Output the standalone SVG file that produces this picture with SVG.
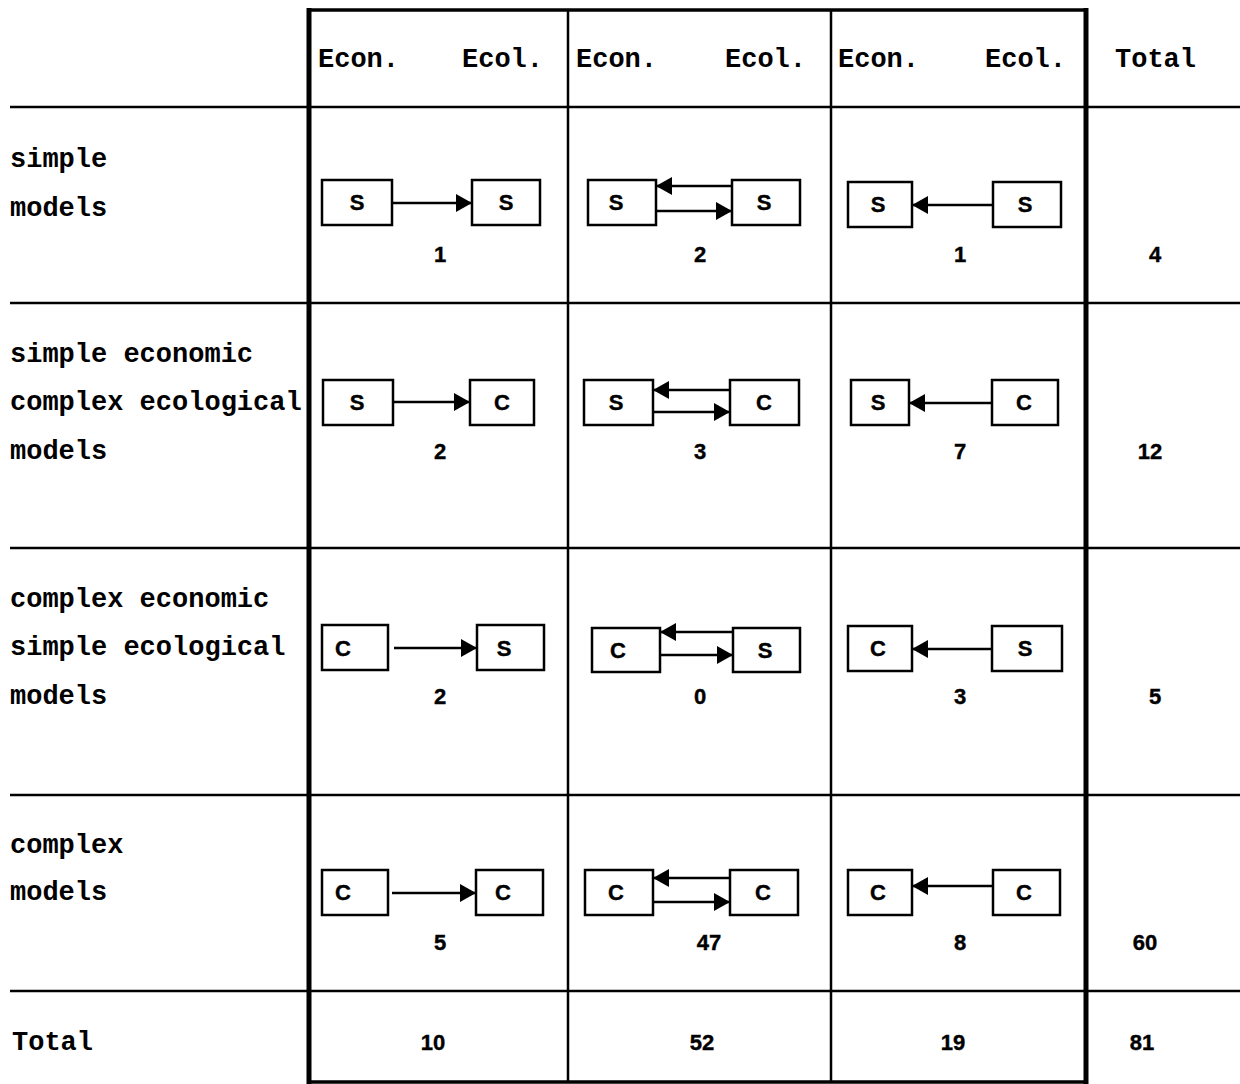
<svg xmlns="http://www.w3.org/2000/svg" width="1240" height="1084" viewBox="0 0 1240 1084">
<style>
.lbl{font-family:"Liberation Mono","Courier New",monospace;font-weight:bold;font-size:27px;fill:#000}
.num{font-family:"Liberation Sans",Arial,sans-serif;font-weight:bold;font-size:22px;fill:#000;text-anchor:middle;stroke:#000;stroke-width:0.4}
.box rect{fill:#fff;stroke:#000;stroke-width:2.5}
.grid line{stroke:#000;stroke-width:2.5}
.conn line{stroke:#000;stroke-width:2.5;marker-end:url(#ah)}
</style>
<defs>
<marker id="ah" viewBox="0 0 16 18" refX="16" refY="9" markerUnits="userSpaceOnUse" markerWidth="16" markerHeight="18" orient="auto">
<path d="M0,0 L16,9 L0,18 z" fill="#000"/>
</marker>
</defs>
<rect width="1240" height="1084" fill="#fff"/>
<g id="grid" class="grid">
<line x1="10" y1="107" x2="1240" y2="107"/>
<line x1="10" y1="303" x2="1240" y2="303"/>
<line x1="10" y1="548" x2="1240" y2="548"/>
<line x1="10" y1="795" x2="1240" y2="795"/>
<line x1="10" y1="991" x2="1240" y2="991"/>
<line x1="568" y1="10" x2="568" y2="1082"/>
<line x1="831" y1="10" x2="831" y2="1082"/>
<line x1="308" y1="10" x2="1086" y2="10" style="stroke-width:3.5"/>
<line x1="308" y1="1082" x2="1086" y2="1082" style="stroke-width:3.5"/>
<line x1="309" y1="8" x2="309" y2="1084" style="stroke-width:5"/>
<line x1="1086" y1="8" x2="1086" y2="1084" style="stroke-width:5"/>
</g>
<g id="header">
<text class="lbl" x="318" y="67">Econ.</text><text class="lbl" x="462" y="67">Ecol.</text>
<text class="lbl" x="576" y="67">Econ.</text><text class="lbl" x="725" y="67">Ecol.</text>
<text class="lbl" x="838" y="67">Econ.</text><text class="lbl" x="985" y="67">Ecol.</text>
<text class="lbl" x="1115" y="67">Total</text>
</g>
<g id="row-labels">
<text class="lbl" x="10" y="167">simple</text>
<text class="lbl" x="10" y="216">models</text>
<text class="lbl" x="10" y="362">simple economic</text>
<text class="lbl" x="10" y="410">complex ecological</text>
<text class="lbl" x="10" y="459">models</text>
<text class="lbl" x="10" y="607">complex economic</text>
<text class="lbl" x="10" y="655">simple ecological</text>
<text class="lbl" x="10" y="704">models</text>
<text class="lbl" x="10" y="853">complex</text>
<text class="lbl" x="10" y="900">models</text>
<text class="lbl" x="12" y="1050">Total</text>
</g>
<!-- Row 1 -->
<g id="r1c1a" class="box"><rect x="322" y="180" width="70" height="45"/><text class="num" x="357" y="210">S</text></g>
<g id="r1c1b" class="box"><rect x="472" y="180" width="68" height="45"/><text class="num" x="506" y="210">S</text></g>
<g id="r1c2a" class="box"><rect x="588" y="180" width="68" height="45"/><text class="num" x="616" y="210">S</text></g>
<g id="r1c2b" class="box"><rect x="732" y="180" width="68" height="45"/><text class="num" x="764" y="210">S</text></g>
<g id="r1c3a" class="box"><rect x="848" y="182" width="64" height="45"/><text class="num" x="878" y="212">S</text></g>
<g id="r1c3b" class="box"><rect x="993" y="182" width="68" height="45"/><text class="num" x="1025" y="212">S</text></g>
<!-- Row 2 -->
<g id="r2c1a" class="box"><rect x="323" y="380" width="70" height="45"/><text class="num" x="357" y="410">S</text></g>
<g id="r2c1b" class="box"><rect x="470" y="380" width="64" height="45"/><text class="num" x="502" y="410">C</text></g>
<g id="r2c2a" class="box"><rect x="584" y="380" width="69" height="45"/><text class="num" x="616" y="410">S</text></g>
<g id="r2c2b" class="box"><rect x="730" y="380" width="69" height="45"/><text class="num" x="764" y="410">C</text></g>
<g id="r2c3a" class="box"><rect x="851" y="380" width="58" height="45"/><text class="num" x="878" y="410">S</text></g>
<g id="r2c3b" class="box"><rect x="992" y="380" width="66" height="45"/><text class="num" x="1024" y="410">C</text></g>
<!-- Row 3 -->
<g id="r3c1a" class="box"><rect x="322" y="625" width="66" height="45"/><text class="num" x="343" y="656">C</text></g>
<g id="r3c1b" class="box"><rect x="477" y="625" width="67" height="45"/><text class="num" x="504" y="656">S</text></g>
<g id="r3c2a" class="box"><rect x="592" y="628" width="68" height="44"/><text class="num" x="618" y="658">C</text></g>
<g id="r3c2b" class="box"><rect x="733" y="628" width="67" height="44"/><text class="num" x="765" y="658">S</text></g>
<g id="r3c3a" class="box"><rect x="848" y="626" width="64" height="45"/><text class="num" x="878" y="656">C</text></g>
<g id="r3c3b" class="box"><rect x="992" y="626" width="70" height="45"/><text class="num" x="1025" y="656">S</text></g>
<!-- Row 4 -->
<g id="r4c1a" class="box"><rect x="322" y="870" width="66" height="45"/><text class="num" x="343" y="900">C</text></g>
<g id="r4c1b" class="box"><rect x="476" y="870" width="67" height="45"/><text class="num" x="503" y="900">C</text></g>
<g id="r4c2a" class="box"><rect x="585" y="870" width="68" height="45"/><text class="num" x="616" y="900">C</text></g>
<g id="r4c2b" class="box"><rect x="730" y="870" width="68" height="45"/><text class="num" x="763" y="900">C</text></g>
<g id="r4c3a" class="box"><rect x="848" y="870" width="64" height="45"/><text class="num" x="878" y="900">C</text></g>
<g id="r4c3b" class="box"><rect x="993" y="870" width="67" height="45"/><text class="num" x="1024" y="900">C</text></g>
<g id="connectors" class="conn">
<line x1="392" y1="203" x2="472" y2="203"/>
<line x1="732" y1="186" x2="656" y2="186"/>
<line x1="656" y1="211" x2="732" y2="211"/>
<line x1="993" y1="205" x2="912" y2="205"/>
<line x1="393" y1="402" x2="470" y2="402"/>
<line x1="730" y1="390" x2="653" y2="390"/>
<line x1="653" y1="412" x2="730" y2="412"/>
<line x1="992" y1="403" x2="909" y2="403"/>
<line x1="394" y1="648" x2="477" y2="648"/>
<line x1="733" y1="632" x2="660" y2="632"/>
<line x1="660" y1="655" x2="733" y2="655"/>
<line x1="992" y1="649" x2="912" y2="649"/>
<line x1="392" y1="893" x2="476" y2="893"/>
<line x1="730" y1="878" x2="653" y2="878"/>
<line x1="653" y1="902" x2="730" y2="902"/>
<line x1="993" y1="886" x2="912" y2="886"/>
</g>
<g id="counts">
<text class="num" x="440" y="262">1</text><text class="num" x="700" y="262">2</text><text class="num" x="960" y="262">1</text><text class="num" x="1155" y="262">4</text>
<text class="num" x="440" y="459">2</text><text class="num" x="700" y="459">3</text><text class="num" x="960" y="459">7</text><text class="num" x="1150" y="459">12</text>
<text class="num" x="440" y="704">2</text><text class="num" x="700" y="704">0</text><text class="num" x="960" y="704">3</text><text class="num" x="1155" y="704">5</text>
<text class="num" x="440" y="950">5</text><text class="num" x="709" y="950">47</text><text class="num" x="960" y="950">8</text><text class="num" x="1145" y="950">60</text>
<text class="num" x="433" y="1050">10</text><text class="num" x="702" y="1050">52</text><text class="num" x="953" y="1050">19</text><text class="num" x="1142" y="1050">81</text>
</g>
</svg>
